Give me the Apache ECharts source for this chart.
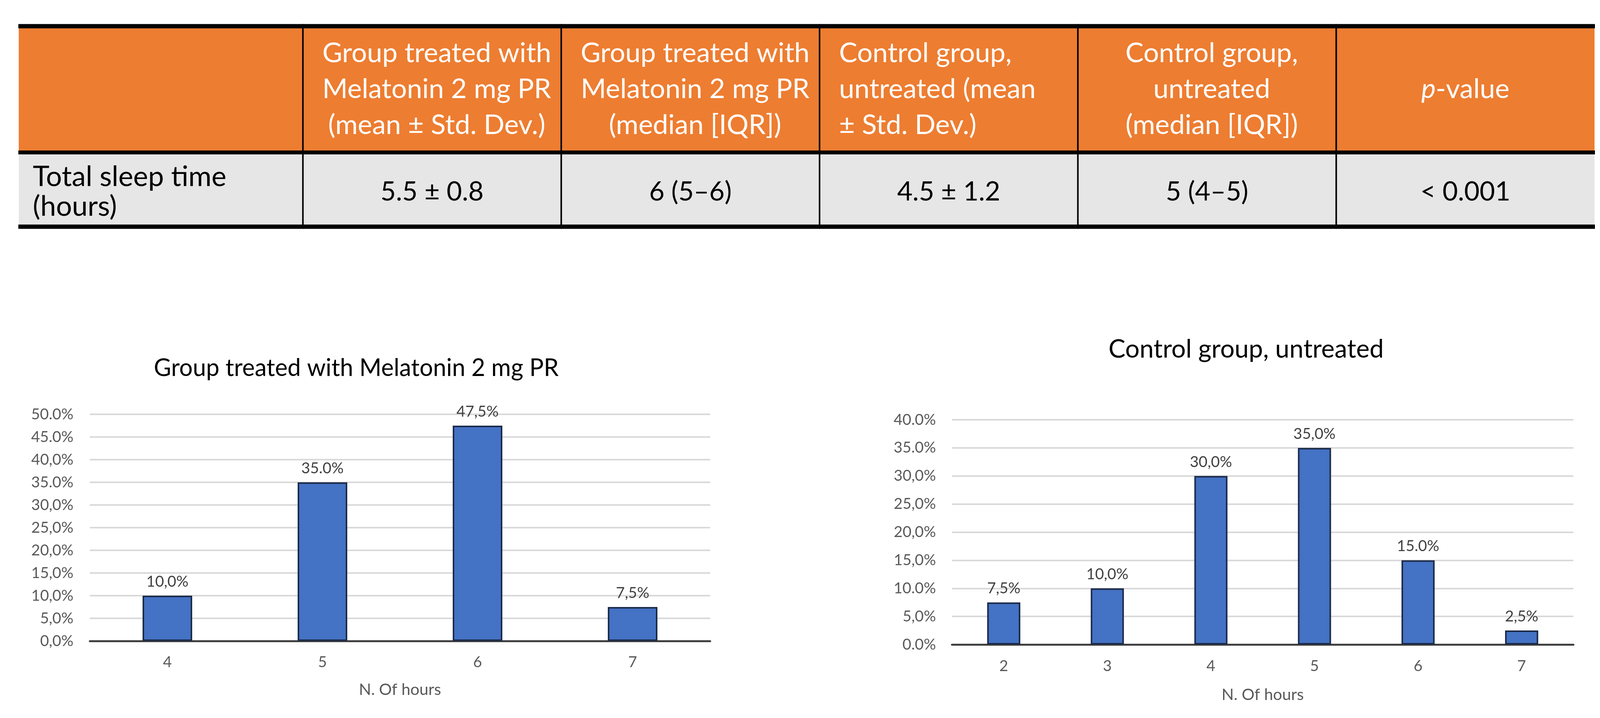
<!DOCTYPE html>
<html>
<head>
<meta charset="utf-8">
<script src="https://cdn.jsdelivr.net/npm/echarts@6/dist/echarts.min.js"></script>
<style>
html,body{margin:0;padding:0;background:#ffffff;}
#main{width:4153px;height:1837px;}
</style>
</head>
<body>
<div id="main"></div>
<script>
// ---------------- DATA ----------------
const tableHeaders = [
  '',
  'Group treated with\nMelatonin 2 mg PR\n(mean ± Std. Dev.)',
  'Group treated with\nMelatonin 2 mg PR\n(median [IQR])',
  'Control group,\nuntreated (mean\n± Std. Dev.)',
  'Control group,\nuntreated\n(median [IQR])',
  '{i|p}-value'
];
const tableRowLabel = 'Total sleep time\n(hours)';
const tableRowValues = ['5.5 ± 0.8', '6 (5–6)', '4.5 ± 1.2', '5 (4–5)', '< 0.001'];

const melatoninTitle = 'Group treated with Melatonin 2 mg PR';
const melatoninHours = ['4', '5', '6', '7'];
const melatoninPercent = [10, 35, 47.5, 7.5];
const melatoninValueLabels = ['10,0%', '35.0%', '47,5%', '7,5%'];
const melatoninYTicks = ['0,0%', '5,0%', '10,0%', '15,0%', '20,0%', '25,0%', '30,0%', '35.0%', '40,0%', '45.0%', '50.0%'];

const controlTitle = 'Control group, untreated';
const controlHours = ['2', '3', '4', '5', '6', '7'];
const controlPercent = [7.5, 10, 30, 35, 15, 2.5];
const controlValueLabels = ['7,5%', '10,0%', '30,0%', '35,0%', '15.0%', '2,5%'];
const controlYTicks = ['0.0%', '5,0%', '10.0%', '15,0%', '20,0%', '25,0%', '30,0%', '35.0%', '40.0%'];

const xAxisTitle = 'N. Of hours';

// ---------------- LAYOUT / STYLE ----------------
const FONT = 'Lato';
const COL_UNITS = [1.1, 1, 1, 1, 1, 1];
const ROW_UNITS = [1.7, 1];
const HEADER_ALIGN = ['center', 'center', 'center', 'left', 'center', 'center'];
const colStart = [0];
COL_UNITS.forEach((u, i) => colStart.push(colStart[i] + u));
const rowStart = [0];
ROW_UNITS.forEach((u, i) => rowStart.push(rowStart[i] + u));

const cellData = [];
for (let r = 0; r < ROW_UNITS.length; r++) {
  for (let c = 0; c < COL_UNITS.length; c++) {
    cellData.push([colStart[c], rowStart[r], colStart[c + 1], rowStart[r + 1], r, c]);
  }
}

function renderCell(params, api) {
  const r = api.value(4), c = api.value(5);
  const p0 = api.coord([api.value(0), api.value(1)]);
  const p1 = api.coord([api.value(2), api.value(3)]);
  const x0 = p0[0], y0 = p0[1], x1 = p1[0], y1 = p1[1];
  const children = [];
  children.push({
    type: 'rect',
    shape: { x: x0, y: y0, width: x1 - x0, height: y1 - y0 },
    style: { fill: r === 0 ? '#ED7D31' : '#E7E6E6' }
  });
  let text, align, fill, lineHeight, fontSize;
  if (r === 0) {
    text = tableHeaders[c];
    align = HEADER_ALIGN[c];
    fill = '#ffffff';
    lineHeight = 92;
    fontSize = 70;
  } else {
    text = c === 0 ? tableRowLabel : tableRowValues[c - 1];
    align = c === 0 ? 'left' : 'center';
    fill = '#000000';
    lineHeight = 76;
    fontSize = c === 0 ? 72 : 68;
  }
  const tx = align === 'left' ? x0 + (c === 0 ? 36 : 50) : (x0 + x1) / 2 + (r === 0 && c > 0 && c < 5 ? 12 : 0);
  children.push({
    type: 'text',
    style: {
      text: text,
      x: tx,
      y: (y0 + y1) / 2 + (r === 1 ? 6 : 0),
      align: align,
      verticalAlign: 'middle',
      fill: fill,
      fontFamily: FONT,
      fontSize: fontSize,
      lineHeight: lineHeight,
      rich: { i: { fontStyle: 'italic', fontFamily: FONT, fontSize: fontSize, fill: fill } }
    }
  });
  if (c > 0) {
    children.push({ type: 'line', shape: { x1: x0, y1: y0, x2: x0, y2: y1 }, style: { stroke: '#000', lineWidth: 4 } });
  }
  children.push({ type: 'line', shape: { x1: x0 - 1, y1: y0, x2: x1 + 1, y2: y0 }, style: { stroke: '#000', lineWidth: r === 0 ? 11 : 10 } });
  if (r === ROW_UNITS.length - 1) {
    children.push({ type: 'line', shape: { x1: x0 - 1, y1: y1, x2: x1 + 1, y2: y1 }, style: { stroke: '#000', lineWidth: 11 } });
  }
  return { type: 'group', children: children };
}

const axisLabelStyle = { color: '#595959', fontFamily: FONT, fontSize: 39 };

const chart = echarts.init(document.getElementById('main'), null, { renderer: 'canvas' });
chart.setOption({
  animation: false,
  backgroundColor: '#ffffff',
  title: [
    { text: melatoninTitle, left: 912, top: 912, textAlign: 'center', padding: 0,
      textStyle: { color: '#000', fontFamily: FONT, fontWeight: 'normal', fontSize: 61 } },
    { text: controlTitle, left: 3190, top: 862, textAlign: 'center', padding: 0,
      textStyle: { color: '#000', fontFamily: FONT, fontWeight: 'normal', fontSize: 65 } }
  ],
  grid: [
    { left: 48, right: 71, top: 67, bottom: 1837 - 580 },
    { left: 230, right: 4153 - 1818, top: 1060, bottom: 1837 - 1640 },
    { left: 2437, right: 4153 - 4028, top: 1074, bottom: 1837 - 1649 }
  ],
  xAxis: [
    { gridIndex: 0, type: 'value', min: 0, max: colStart[colStart.length - 1], show: false },
    { gridIndex: 1, type: 'category', data: melatoninHours,
      axisLine: { lineStyle: { color: '#404040', width: 5 } }, axisTick: { show: false },
      axisLabel: Object.assign({ margin: 35 }, axisLabelStyle),
      name: xAxisTitle, nameLocation: 'middle', nameGap: 104,
      nameTextStyle: { color: '#595959', fontFamily: FONT, fontSize: 41 } },
    { gridIndex: 2, type: 'category', data: controlHours,
      axisLine: { lineStyle: { color: '#404040', width: 5 } }, axisTick: { show: false },
      axisLabel: Object.assign({ margin: 36 }, axisLabelStyle),
      name: xAxisTitle, nameLocation: 'middle', nameGap: 108,
      nameTextStyle: { color: '#595959', fontFamily: FONT, fontSize: 41 } }
  ],
  yAxis: [
    { gridIndex: 0, type: 'value', min: 0, max: rowStart[rowStart.length - 1], inverse: true, show: false },
    { gridIndex: 1, type: 'value', min: 0, max: 50, interval: 5,
      axisLine: { show: false }, axisTick: { show: false },
      splitLine: { lineStyle: { color: '#D9D9D9', width: 4 } },
      axisLabel: Object.assign({ margin: 42, formatter: v => melatoninYTicks[Math.round(v / 5)] }, axisLabelStyle) },
    { gridIndex: 2, type: 'value', min: 0, max: 40, interval: 5,
      axisLine: { show: false }, axisTick: { show: false },
      splitLine: { lineStyle: { color: '#D9D9D9', width: 4 } },
      axisLabel: Object.assign({ margin: 41, formatter: v => controlYTicks[Math.round(v / 5)] }, axisLabelStyle) }
  ],
  series: [
    { type: 'custom', xAxisIndex: 0, yAxisIndex: 0, data: cellData, renderItem: renderCell, silent: true },
    { type: 'bar', xAxisIndex: 1, yAxisIndex: 1, data: melatoninPercent, barWidth: '32%',
      itemStyle: { color: '#4472C4', borderColor: '#1C2B4A', borderWidth: 4 },
      label: { show: true, position: 'top', distance: 16, color: '#404040', fontFamily: FONT, fontSize: 39,
        formatter: p => melatoninValueLabels[p.dataIndex] } },
    { type: 'bar', xAxisIndex: 2, yAxisIndex: 2, data: controlPercent, barWidth: '32%',
      itemStyle: { color: '#4472C4', borderColor: '#1C2B4A', borderWidth: 4 },
      label: { show: true, position: 'top', distance: 16, color: '#404040', fontFamily: FONT, fontSize: 39,
        formatter: p => controlValueLabels[p.dataIndex] } }
  ]
});
</script>
</body>
</html>
